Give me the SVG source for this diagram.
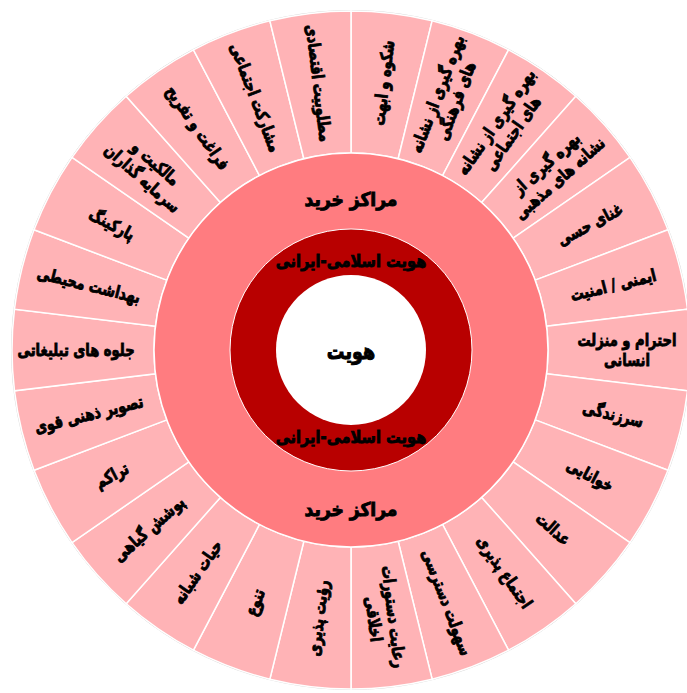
<svg xmlns="http://www.w3.org/2000/svg" width="687" height="693" viewBox="0 0 687 693">
<style>
.seg{fill:#ffb3b6;stroke:#ffffff;stroke-width:1.5}
.lbl{font-family:"DejaVu Sans",sans-serif;font-weight:bold;font-size:17px;fill:#000;stroke:#000;stroke-width:0.9;text-anchor:middle;dominant-baseline:central}
.mid{font-family:"DejaVu Sans",sans-serif;font-weight:bold;font-size:19px;fill:#000;stroke:#000;stroke-width:1;text-anchor:middle;dominant-baseline:central}
</style>
<rect width="687" height="693" fill="#ffffff"/>
<circle cx="351" cy="350" r="339.5" fill="none" stroke="#d4d4d4" stroke-width="1"/>
<g id="outer-ring">
<g id="seg0"><path class="seg" d="M351,11 A339,339 0 0 1 432.13,20.85 L398.15,158.72 A197,197 0 0 0 351,153 Z"/><text class="lbl" transform="translate(383.55,83) rotate(-83.08) scale(0.77,1)">شکوه و ابهت</text></g>
<g id="seg1"><path class="seg" d="M432.13,20.85 A339,339 0 0 1 508.54,49.83 L442.55,175.56 A197,197 0 0 0 398.15,158.72 Z"/><text class="lbl" transform="translate(446.74,97.54) rotate(-69.23) scale(0.77,1)"><tspan x="0" y="-10">بهره گیری از نشانه</tspan><tspan x="0" y="10">های فرهنگی</tspan></text></g>
<g id="seg2"><path class="seg" d="M508.54,49.83 A339,339 0 0 1 575.8,96.26 L481.63,202.54 A197,197 0 0 0 442.55,175.56 Z"/><text class="lbl" transform="translate(504.38,127.8) rotate(-55.38) scale(0.77,1)"><tspan x="0" y="-10">بهره گیری از نشانه</tspan><tspan x="0" y="10">های اجتماعی</tspan></text></g>
<g id="seg3"><path class="seg" d="M575.8,96.26 A339,339 0 0 1 629.99,157.43 L513.13,238.09 A197,197 0 0 0 481.63,202.54 Z"/><text class="lbl" transform="translate(553.1,170.96) rotate(-41.54) scale(0.77,1)"><tspan x="0" y="-10">بهره گیری از</tspan><tspan x="0" y="10">نشانه های مذهبی</tspan></text></g>
<g id="seg4"><path class="seg" d="M629.99,157.43 A339,339 0 0 1 667.97,229.8 L535.2,280.15 A197,197 0 0 0 513.13,238.09 Z"/><text class="lbl" transform="translate(590.07,224.53) rotate(-27.69) scale(0.77,1)">غنای حسی</text></g>
<g id="seg5"><path class="seg" d="M667.97,229.8 A339,339 0 0 1 687.53,309.15 L546.56,326.26 A197,197 0 0 0 535.2,280.15 Z"/><text class="lbl" transform="translate(613.15,285.38) rotate(-13.85) scale(0.77,1)">ایمنی / امنیت</text></g>
<g id="seg6"><path class="seg" d="M687.53,309.15 A339,339 0 0 1 687.53,390.85 L546.56,373.74 A197,197 0 0 0 546.56,326.26 Z"/><text class="lbl" transform="translate(627,350) scale(0.77,1)"><tspan x="0" y="-10">احترام و منزلت</tspan><tspan x="0" y="10">انسانی</tspan></text></g>
<g id="seg7"><path class="seg" d="M687.53,390.85 A339,339 0 0 1 667.97,470.2 L535.2,419.85 A197,197 0 0 0 546.56,373.74 Z"/><text class="lbl" transform="translate(613.15,414.62) rotate(13.85) scale(0.77,1)">سرزندگی</text></g>
<g id="seg8"><path class="seg" d="M667.97,470.2 A339,339 0 0 1 629.99,542.57 L513.13,461.91 A197,197 0 0 0 535.2,419.85 Z"/><text class="lbl" transform="translate(590.07,475.47) rotate(27.69) scale(0.77,1)">خوانایی</text></g>
<g id="seg9"><path class="seg" d="M629.99,542.57 A339,339 0 0 1 575.8,603.74 L481.63,497.46 A197,197 0 0 0 513.13,461.91 Z"/><text class="lbl" transform="translate(553.1,529.04) rotate(41.54) scale(0.77,1)">عدالت</text></g>
<g id="seg10"><path class="seg" d="M575.8,603.74 A339,339 0 0 1 508.54,650.17 L442.55,524.44 A197,197 0 0 0 481.63,497.46 Z"/><text class="lbl" transform="translate(504.38,572.2) rotate(55.38) scale(0.77,1)">اجتماع پذیری</text></g>
<g id="seg11"><path class="seg" d="M508.54,650.17 A339,339 0 0 1 432.13,679.15 L398.15,541.28 A197,197 0 0 0 442.55,524.44 Z"/><text class="lbl" transform="translate(446.74,602.46) rotate(69.23) scale(0.77,1)">سهولت دسترسی</text></g>
<g id="seg12"><path class="seg" d="M432.13,679.15 A339,339 0 0 1 351,689 L351,547 A197,197 0 0 0 398.15,541.28 Z"/><text class="lbl" transform="translate(383.55,618.03) rotate(83.08) scale(0.77,1)"><tspan x="0" y="-10">رعایت دستورات</tspan><tspan x="0" y="10">اخلاقی</tspan></text></g>
<g id="seg13"><path class="seg" d="M351,689 A339,339 0 0 1 269.87,679.15 L303.85,541.28 A197,197 0 0 0 351,547 Z"/><text class="lbl" transform="translate(318.45,618.03) rotate(-83.08) scale(0.77,1)">رؤیت پذیری</text></g>
<g id="seg14"><path class="seg" d="M269.87,679.15 A339,339 0 0 1 193.46,650.17 L259.45,524.44 A197,197 0 0 0 303.85,541.28 Z"/><text class="lbl" transform="translate(255.26,602.46) rotate(-69.23) scale(0.77,1)">تنوع</text></g>
<g id="seg15"><path class="seg" d="M193.46,650.17 A339,339 0 0 1 126.2,603.74 L220.37,497.46 A197,197 0 0 0 259.45,524.44 Z"/><text class="lbl" transform="translate(197.62,572.2) rotate(-55.38) scale(0.77,1)">حیات شبانه</text></g>
<g id="seg16"><path class="seg" d="M126.2,603.74 A339,339 0 0 1 72.01,542.57 L188.87,461.91 A197,197 0 0 0 220.37,497.46 Z"/><text class="lbl" transform="translate(148.9,529.04) rotate(-41.54) scale(0.77,1)">پوشش گیاهی</text></g>
<g id="seg17"><path class="seg" d="M72.01,542.57 A339,339 0 0 1 34.03,470.2 L166.8,419.85 A197,197 0 0 0 188.87,461.91 Z"/><text class="lbl" transform="translate(111.93,475.47) rotate(-27.69) scale(0.77,1)">تراکم</text></g>
<g id="seg18"><path class="seg" d="M34.03,470.2 A339,339 0 0 1 14.47,390.85 L155.44,373.74 A197,197 0 0 0 166.8,419.85 Z"/><text class="lbl" transform="translate(88.85,414.62) rotate(-13.85) scale(0.77,1)">تصویر ذهنی قوی</text></g>
<g id="seg19"><path class="seg" d="M14.47,390.85 A339,339 0 0 1 14.47,309.15 L155.44,326.26 A197,197 0 0 0 155.44,373.74 Z"/><text class="lbl" transform="translate(76,350) scale(0.77,1)">جلوه های تبلیغاتی</text></g>
<g id="seg20"><path class="seg" d="M14.47,309.15 A339,339 0 0 1 34.03,229.8 L166.8,280.15 A197,197 0 0 0 155.44,326.26 Z"/><text class="lbl" transform="translate(88.85,285.38) rotate(13.85) scale(0.77,1)">بهداشت محیطی</text></g>
<g id="seg21"><path class="seg" d="M34.03,229.8 A339,339 0 0 1 72.01,157.43 L188.87,238.09 A197,197 0 0 0 166.8,280.15 Z"/><text class="lbl" transform="translate(111.93,224.53) rotate(27.69) scale(0.77,1)">پارکینگ</text></g>
<g id="seg22"><path class="seg" d="M72.01,157.43 A339,339 0 0 1 126.2,96.26 L220.37,202.54 A197,197 0 0 0 188.87,238.09 Z"/><text class="lbl" transform="translate(148.9,170.96) rotate(41.54) scale(0.77,1)"><tspan x="0" y="-10">مالکیت و</tspan><tspan x="0" y="10">سرمایه گذاران</tspan></text></g>
<g id="seg23"><path class="seg" d="M126.2,96.26 A339,339 0 0 1 193.46,49.83 L259.45,175.56 A197,197 0 0 0 220.37,202.54 Z"/><text class="lbl" transform="translate(197.62,127.8) rotate(55.38) scale(0.77,1)">فراغت و تفریح</text></g>
<g id="seg24"><path class="seg" d="M193.46,49.83 A339,339 0 0 1 269.87,20.85 L303.85,158.72 A197,197 0 0 0 259.45,175.56 Z"/><text class="lbl" transform="translate(255.26,97.54) rotate(69.23) scale(0.77,1)">مشارکت اجتماعی</text></g>
<g id="seg25"><path class="seg" d="M269.87,20.85 A339,339 0 0 1 351,11 L351,153 A197,197 0 0 0 303.85,158.72 Z"/><text class="lbl" transform="translate(318.45,83) rotate(83.08) scale(0.77,1)">مطلوبیت اقتصادی</text></g>
</g>
<g id="malls">
<circle cx="351" cy="350" r="197" fill="#ff7c80" stroke="#ffffff" stroke-width="1.5"/>
<text class="mid" transform="translate(351,199) scale(0.9,1)">مراکز خرید</text>
<text class="mid" transform="translate(351,509) scale(0.9,1)">مراکز خرید</text>
</g>
<g id="islamic-iranian">
<circle cx="351" cy="350" r="121" fill="#b80000" stroke="#ffffff" stroke-width="1"/>
<text class="lbl" transform="translate(351,261) scale(0.86,1)">هویت اسلامی-ایرانی</text>
<text class="lbl" transform="translate(351,437) scale(0.86,1)">هویت اسلامی-ایرانی</text>
</g>
<g id="identity">
<circle cx="351" cy="350" r="75" fill="#ffffff"/>
<text class="mid" transform="translate(351,352) scale(0.8,1)" style="font-size:22px">هویت</text>
</g>
<g id="connectors"></g>
</svg>
